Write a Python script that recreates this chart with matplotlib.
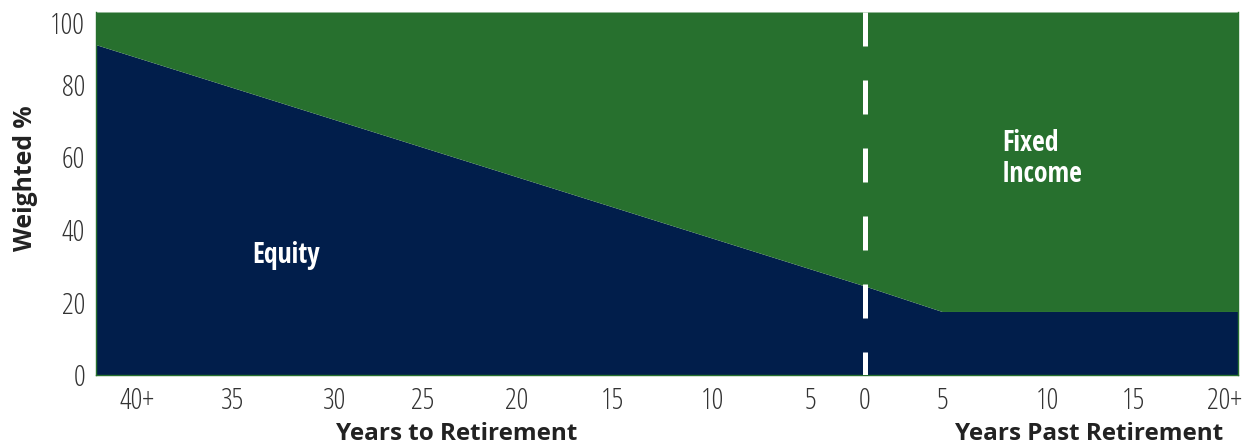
import numpy as np
import matplotlib
matplotlib.use("Agg")
import matplotlib.pyplot as plt

# ---- data ----
tick_years = [-40, -35, -30, -25, -20, -15, -10, -5, 0, 5, 10, 15, 20]
tick_labels = ["40+", "35", "30", "25", "20", "15", "10", "5", "0", "5", "10", "15", "20+"]
glide_years = [-42, 0, 5, 21]
equity_pct = [91, 24.5, 17.5, 17.5]
y_ticks = [0, 20, 40, 60, 80, 100]

# ---- layout: axis break positions (hand-laid axis of the original) ----
knot_years = [-42] + tick_years + [21]
knot_pos = [0, 41, 137, 239, 327, 421, 516, 616, 714, 769, 846, 951, 1037, 1129, 1142]

def _pw(x, xs, ys):
    x = np.asarray(x, dtype=float)
    out = np.interp(x, xs, ys)
    s0 = (ys[1] - ys[0]) / (xs[1] - xs[0])
    s1 = (ys[-1] - ys[-2]) / (xs[-1] - xs[-2])
    out = np.where(x < xs[0], ys[0] + (x - xs[0]) * s0, out)
    out = np.where(x > xs[-1], ys[-1] + (x - xs[-1]) * s1, out)
    return out

fwd = lambda x: _pw(x, knot_years, knot_pos)
inv = lambda p: _pw(p, knot_pos, knot_years)

NAVY = "#011e4b"
GREEN = "#27702e"
TXT = "#333333"
TICK = dict(family=["Open Sans", "DejaVu Sans"], fontsize=21, fontweight=300,
            fontstretch="condensed", color=TXT)
BOLDC = dict(family=["Open Sans Condensed", "DejaVu Sans"], fontsize=20, fontweight="bold",
             fontstretch="condensed", color="white")
AXL = dict(family=["Open Sans", "DejaVu Sans"], fontsize=17.5, fontweight="bold", color="#222222")

fig = plt.figure(figsize=(12.48, 4.47), dpi=100)
ax = fig.add_axes([96/1248, 1 - 375/447, 1142/1248, 363/447])
ax.set_xscale("function", functions=(fwd, inv))
ax.set_xlim(glide_years[0], glide_years[-1])
ax.set_ylim(0, 100)

ax.fill_between(glide_years, 0, equity_pct, color=NAVY, lw=0, zorder=1)
ax.fill_between(glide_years, equity_pct, 100, color=GREEN, lw=0, zorder=1)

ax.plot([0, 0], [100, 0], color="white", lw=3.6, linestyle=(0, (6.8, 6.8)),
        solid_capstyle="butt", dash_capstyle="butt", zorder=3)

for s in ["left", "bottom", "right"]:
    ax.spines[s].set_color(GREEN)
    ax.spines[s].set_linewidth(1.0)
ax.spines["top"].set_visible(False)

ax.set_xticks(tick_years)
ax.set_xticklabels(tick_labels, **TICK)
ax.set_yticks(y_ticks)
ax.set_yticklabels([str(v) for v in y_ticks], **TICK)
ax.tick_params(axis="both", length=0)
ax.tick_params(axis="x", pad=8)
ax.tick_params(axis="y", pad=8)
ax.minorticks_off()
for lab in ax.get_yticklabels():
    if lab.get_text() == "100":
        lab.set_va("top")

fig.text(26/1248, 1 - 178/447, "Weighted %", rotation=90, ha="center", va="center",
         family=["Open Sans", "DejaVu Sans"], fontsize=17.8, fontweight="bold", color="#222222")

fig.text(457/1248, 1 - 434/447, "Years to Retirement", ha="center", va="center", **AXL)
fig.text(1089/1248, 1 - 434/447, "Years Past Retirement", ha="center", va="center", **AXL)

ax.text((286-96)/1142, (375-256)/363, "Equity", transform=ax.transAxes, ha="center", va="center",
        zorder=4, **BOLDC)
ax.text((1002-96)/1142, (375-159)/363, "Fixed\nIncome", transform=ax.transAxes, ha="left", va="center",
        linespacing=1.12, zorder=4, **BOLDC)

fig.savefig("out.png", dpi=100)
